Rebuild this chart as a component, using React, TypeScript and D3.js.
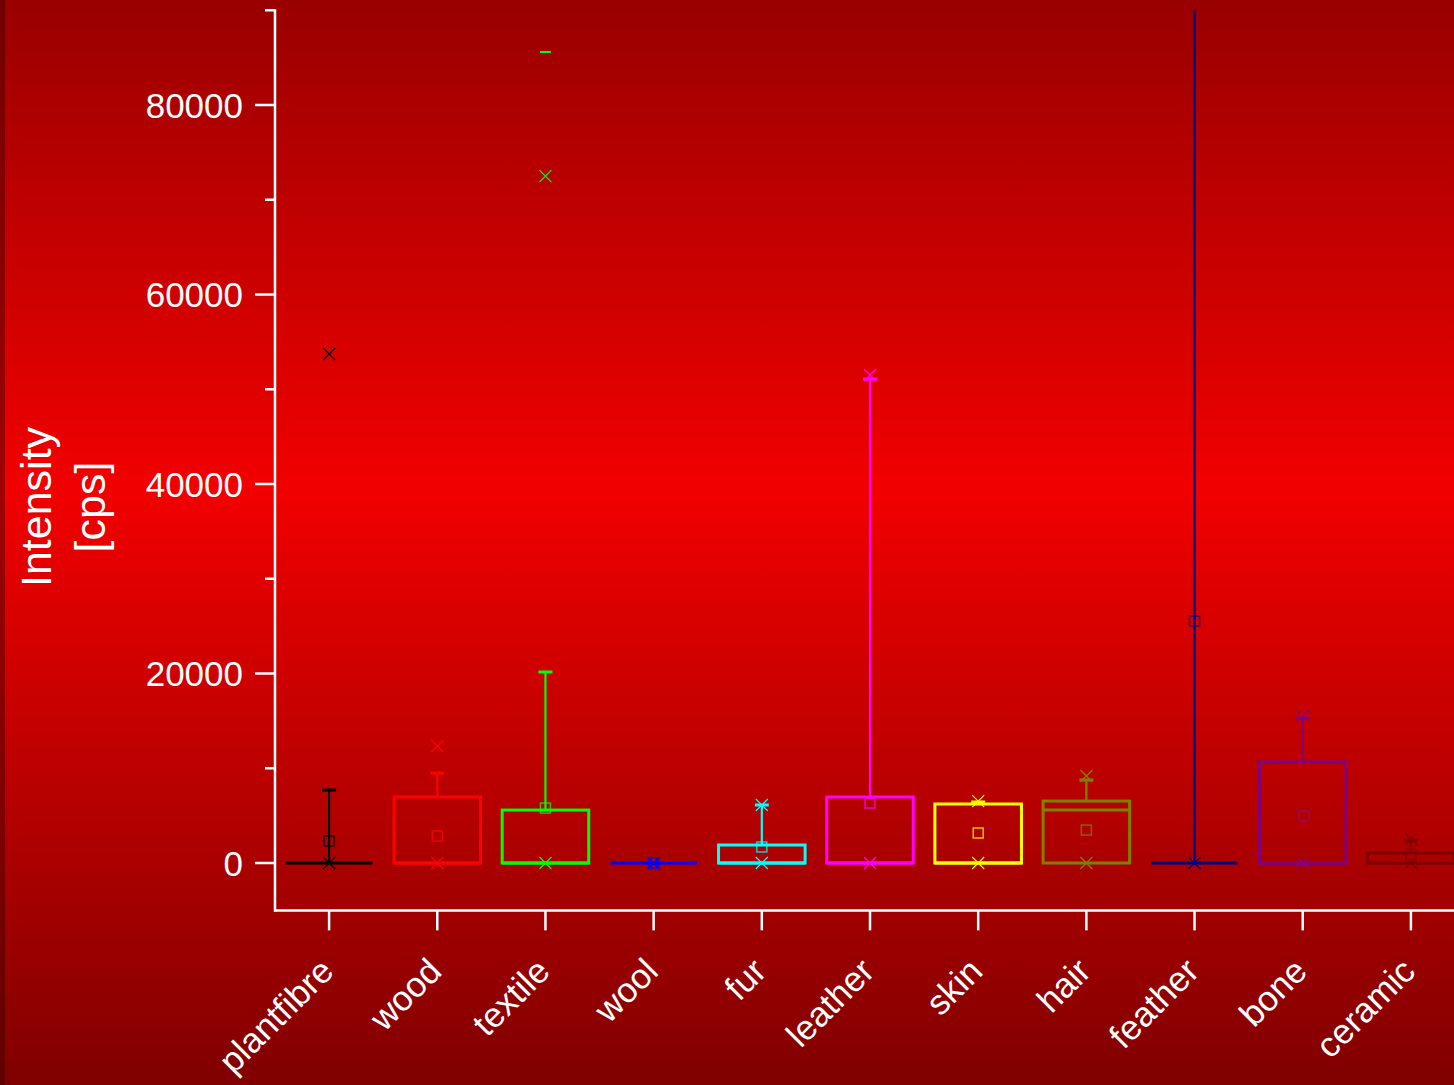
import React from "react";
import * as d3 from "d3";

const categories = ["plantfibre", "wood", "textile", "wool", "fur", "leather", "skin", "hair", "feather", "bone", "ceramic"];
const colors = ["#000000", "#ff0000", "#00ff00", "#0000ff", "#00ffff", "#ff00ff", "#ffff00", "#808000", "#000080", "#800080", "#800000"];
const q1Values = [0, 0, 0, 0, 0, 0, 0, 0, 0, 0, 0];
const medianValues = [0, 0, 0, 0, 0, 0, 0, 5590, 0, 0, 0];
const q3Values = [0, 6970, 5590, 0, 1900, 6970, 6230, 6540, 0, 10660, 1055];
const whiskerLow = [0, 0, 0, 0, 0, 0, 0, 0, 0, 0, 0];
const whiskerHigh = [7700, 9500, 20160, 0, 6120, 51080, 6440, 8760, 95000, 15300, 2320];
const meanValues = [2320, 2850, 5800, 0, 1690, 6330, 3170, 3480, 25540, 5070, 900];
const p1Values = [0, 0, 0, 0, 0, 0, 0, 0, 0, 0, 0];
const p99Values = [53720, 12350, 72500, 0, 6120, 51500, 6540, 9180, 95000, 15510, 2530];
const maxValues = [53720, 12350, 85600, 0, 6120, 51500, 6540, 9180, 95000, 15510, 2530];
const majorTicks = [0, 20000, 40000, 60000, 80000];
const minorTicks = [10000, 30000, 50000, 70000, 90000];

const W = 1454;
const H = 1085;

export default function App() {
  const y = d3.scaleLinear().domain([-5000, 90000]).range([910.4, 10.25]);
  const x = d3.scaleBand<string>().domain(categories).range([275, 1465]).padding(0);
  const step = x.step();
  const boxW = step * 0.8;
  const font = "'Liberation Sans', Arial, sans-serif";

  const cross = (cx: number, cy: number, s: number, color: string, key: string) => (
    <path key={key} d={`M${cx - s},${cy - s}L${cx + s},${cy + s}M${cx - s},${cy + s}L${cx + s},${cy - s}`} stroke={color} strokeWidth={1.2} fill="none" />
  );

  return (
    <svg width={W} height={H} style={{ position: "absolute", left: 0, top: 0 }}>
      <defs>
        <linearGradient id="bg" x1="0" y1="0" x2="0" y2="1">
          <stop offset="0" stopColor="#990000" />
          <stop offset="0.45" stopColor="#f20000" />
          <stop offset="1" stopColor="#800000" />
        </linearGradient>
        <linearGradient id="strip" x1="0" y1="0" x2="0" y2="1">
          <stop offset="0" stopColor="#700000" />
          <stop offset="0.45" stopColor="#a00000" />
          <stop offset="1" stopColor="#600000" />
        </linearGradient>
        <clipPath id="plotClip">
          <rect x={275} y={y(90000)} width={W - 275} height={y(-5000) - y(90000)} />
        </clipPath>
      </defs>
      <rect x={0} y={0} width={W} height={H} fill="url(#bg)" />
      <rect x={0} y={0} width={5} height={H} fill="url(#strip)" />

      <g clipPath="url(#plotClip)">
        {categories.map((c, i) => {
          const cx = (x(c) as number) + step / 2;
          const col = colors[i];
          const yq1 = y(q1Values[i]);
          const yq3 = y(q3Values[i]);
          const left = cx - boxW / 2;
          return (
            <g key={c}>
              <line x1={cx} x2={cx} y1={yq3} y2={y(whiskerHigh[i])} stroke={col} strokeWidth={2.2} />
              <line x1={cx} x2={cx} y1={yq1} y2={y(whiskerLow[i])} stroke={col} strokeWidth={2.2} />
              <line x1={cx - 7} x2={cx + 7} y1={y(whiskerHigh[i])} y2={y(whiskerHigh[i])} stroke={col} strokeWidth={3} />
              <rect x={left} y={yq3} width={boxW} height={Math.max(0, yq1 - yq3)} fill="none" stroke={col} strokeWidth={3} />
              <line x1={left} x2={left + boxW} y1={y(medianValues[i])} y2={y(medianValues[i])} stroke={col} strokeWidth={3} />
              <rect x={cx - 5} y={y(meanValues[i]) - 5} width={10} height={10} fill="none" stroke={col} strokeWidth={1.5} opacity={0.75} />
              {cross(cx, y(p1Values[i]), 6, col, "p1")}
              {cross(cx, y(p99Values[i]), 6, col, "p99")}
              {maxValues[i] !== p99Values[i] && (
                <line x1={cx - 5.5} x2={cx + 5.5} y1={y(maxValues[i])} y2={y(maxValues[i])} stroke={col} strokeWidth={2} />
              )}
            </g>
          );
        })}
      </g>

      <line x1={275} x2={275} y1={y(90000) - 1} y2={y(-5000) + 1.2} stroke="#fff" strokeWidth={2.5} />
      {majorTicks.map((t) => (
        <g key={t}>
          <line x1={255} x2={275} y1={y(t)} y2={y(t)} stroke="#fff" strokeWidth={2.5} />
          <text x={243} y={y(t)} dy="0.36em" textAnchor="end" fill="#fff" fontSize={35} fontFamily={font}>
            {t}
          </text>
        </g>
      ))}
      {minorTicks.map((t) => (
        <line key={t} x1={265} x2={275} y1={y(t)} y2={y(t)} stroke="#fff" strokeWidth={2.5} />
      ))}

      <line x1={274} x2={W} y1={y(-5000)} y2={y(-5000)} stroke="#fff" strokeWidth={2.5} />
      {categories.map((c) => {
        const cx = (x(c) as number) + step / 2;
        return (
          <g key={c}>
            <line x1={cx} x2={cx} y1={y(-5000)} y2={y(-5000) + 20} stroke="#fff" strokeWidth={2.5} />
            <text
              transform={`translate(${cx - 11},${956}) rotate(-45)`}
              textAnchor="end"
              dy="0.7em"
              fill="#fff"
              fontSize={35}
              fontFamily={font}
            >
              {c}
            </text>
          </g>
        );
      })}

      <text transform={`translate(51,507) rotate(-90)`} textAnchor="middle" fill="#fff" fontSize={43} fontFamily={font}>
        Intensity
      </text>
      <text transform={`translate(105,507) rotate(-90)`} textAnchor="middle" fill="#fff" fontSize={43} fontFamily={font}>
        [cps]
      </text>
    </svg>
  );
}
